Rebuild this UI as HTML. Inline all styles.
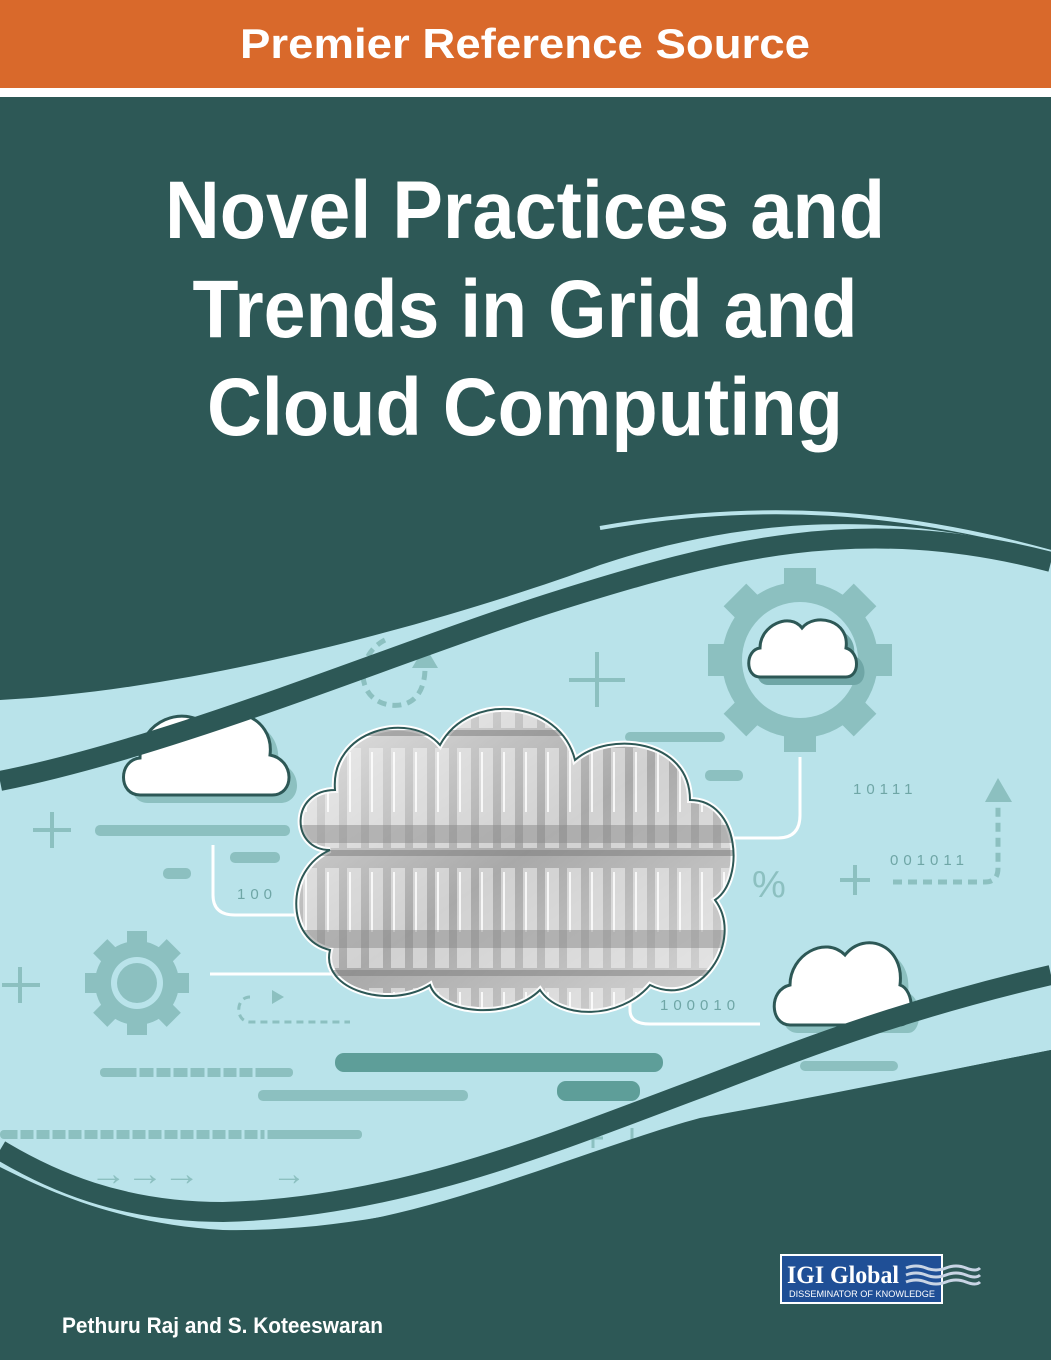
<!DOCTYPE html>
<html><head><meta charset="utf-8"><style>
html,body{margin:0;padding:0;background:#2d5856;}
svg{display:block}
</style></head><body>
<svg width="1051" height="1360" viewBox="0 0 1051 1360" xmlns="http://www.w3.org/2000/svg" font-family="Liberation Sans, sans-serif">
<defs>
<linearGradient id="cg" x1="0" y1="0" x2="1" y2="1">
<stop offset="0" stop-color="#e6e6e6"/><stop offset="0.5" stop-color="#a9a9a9"/><stop offset="1" stop-color="#d9d9d9"/>
</linearGradient>
<pattern id="rack" width="22" height="120" patternUnits="userSpaceOnUse" x="300" y="740">
<rect x="3" y="8" width="14" height="100" fill="#f2f2f2" opacity="0.55"/>
<rect x="5" y="12" width="2" height="60" fill="#ffffff" opacity="0.8"/>
<rect x="0" y="110" width="22" height="6" fill="#7a7a7a" opacity="0.5"/>
</pattern>
<clipPath id="bigc"><path d="M330,850 C290,850 290,790 335,790 C330,730 410,710 440,745 C470,690 560,700 575,760 C610,730 690,740 690,800 C740,800 745,880 715,900 C745,940 700,1010 650,985 C620,1020 560,1020 540,990 C510,1020 440,1015 430,985 C390,1010 320,990 330,950 C285,940 285,870 330,850 Z"/></clipPath>
</defs>
<rect width="1051" height="1360" fill="#2d5856"/>
<rect width="1051" height="88" fill="#d9692b"/>
<rect y="88" width="1051" height="9" fill="#ffffff"/>
<text x="525" y="58" text-anchor="middle" font-size="42" font-weight="bold" fill="#fff" textLength="570" lengthAdjust="spacingAndGlyphs">Premier Reference Source</text>
<g fill="#fff" font-size="82" font-weight="bold" text-anchor="middle">
<text x="525" y="238" textLength="720" lengthAdjust="spacingAndGlyphs">Novel Practices and</text>
<text x="525" y="337" textLength="665" lengthAdjust="spacingAndGlyphs">Trends in Grid and</text>
<text x="525" y="435" textLength="636" lengthAdjust="spacingAndGlyphs">Cloud Computing</text>
</g>
<!-- light area -->
<path d="M0,700 C200,690 450,620 600,565 C750,515 900,510 1051,555 L1051,1050 C900,1080 750,1110 600,1160 C450,1210 330,1232 223,1230 C120,1224 50,1192 0,1167 Z" fill="#b9e3ea"/>
<path d="M600,528 C760,500 900,510 1051,552" fill="none" stroke="#b9e3ea" stroke-width="4"/>
<!-- decorative bars -->
<g fill="#8cc0c0">
<rect x="95" y="825" width="195" height="11" rx="5"/>
<rect x="625" y="732" width="100" height="10" rx="5"/>
<rect x="705" y="770" width="38" height="11" rx="5"/>
<rect x="230" y="852" width="50" height="11" rx="5"/>
<rect x="163" y="868" width="28" height="11" rx="5"/>
<rect x="258" y="1090" width="210" height="11" rx="5"/>
<rect x="800" y="1061" width="98" height="10" rx="5"/>
</g>
<g fill="#5e9e99">
<rect x="335" y="1053" width="328" height="19" rx="9"/>
<rect x="557" y="1081" width="83" height="20" rx="9"/>
</g>
<g fill="#8cc0c0">
<rect x="100" y="1068" width="193" height="9" rx="4"/>
<rect x="0" y="1130" width="362" height="9" rx="4"/>
</g>
<g stroke="#b9e3ea" stroke-width="3"><path d="M138,1066 v13 M155,1066 v13 M172,1066 v13 M189,1066 v13 M206,1066 v13 M222,1066 v13 M238,1066 v13 M254,1066 v13"/>
<path d="M19,1128 v13 M35,1128 v13 M51,1128 v13 M67,1128 v13 M83,1128 v13 M99,1128 v13 M115,1128 v13 M131,1128 v13 M147,1128 v13 M163,1128 v13 M179,1128 v13 M195,1128 v13 M211,1128 v13 M227,1128 v13 M243,1128 v13 M259,1128 v13 M266,1128 v13"/></g>
<!-- white connector lines -->
<g fill="none" stroke="#fff" stroke-width="3">
<path d="M213,845 V895 Q213,915 235,915 H300"/>
<path d="M800,757 V815 Q800,838 778,838 H700"/>
<path d="M210,974 H360"/>
<path d="M630,985 V1010 Q630,1024 650,1024 H760"/>
</g>
<!-- plus signs -->
<g stroke="#8cc0c0" stroke-width="4">
<path d="M597,652 v55 M569,680 h56"/>
<path d="M52,812 v36 M33,830 h38"/>
<path d="M20,967 v36 M2,985 h38"/>
<path d="M855,865 v30 M840,880 h30"/>
</g>
<!-- dashed arrows -->
<g fill="none" stroke="#8cc0c0" stroke-width="5" stroke-dasharray="9,6">
<path d="M385,640 C355,655 355,700 390,705 C415,708 425,690 425,668"/>
<path d="M893,882 H985 Q998,882 998,868 V805"/>
</g>
<polygon points="412,668 438,668 425,646" fill="#8cc0c0"/>
<polygon points="985,802 1012,802 998,778" fill="#8cc0c0"/>
<path d="M250,997 C235,997 235,1022 250,1022 H350" fill="none" stroke="#8cc0c0" stroke-width="3" stroke-dasharray="7,5"/>
<polygon points="272,990 284,997 272,1004" fill="#8cc0c0"/>
<!-- binary text -->
<g fill="#6fa6a6" font-size="15" letter-spacing="5">
<text x="853" y="794">10111</text>
<text x="890" y="865">001011</text>
<text x="237" y="899">100</text>
<text x="660" y="1010">100010</text>
</g>
<text x="752" y="897" fill="#8cc0c0" font-size="38">%</text>
<!-- top-right gear -->
<g transform="translate(800,660)" fill="#8cc0c0">
<circle r="78"/>
<g><rect x="-16" y="-92" width="32" height="24"/><rect x="-16" y="68" width="32" height="24"/><rect x="-92" y="-16" width="24" height="32"/><rect x="68" y="-16" width="24" height="32"/>
<rect x="-16" y="-92" width="32" height="24" transform="rotate(45)"/><rect x="-16" y="-92" width="32" height="24" transform="rotate(135)"/><rect x="-16" y="-92" width="32" height="24" transform="rotate(225)"/><rect x="-16" y="-92" width="32" height="24" transform="rotate(315)"/></g>
<circle r="58" fill="#b9e3ea"/>
</g>
<!-- bottom-left gear -->
<g transform="translate(137,983)" fill="#8cc0c0">
<circle r="42"/>
<rect x="-10" y="-52" width="20" height="16"/><rect x="-10" y="36" width="20" height="16"/><rect x="-52" y="-10" width="16" height="20"/><rect x="36" y="-10" width="16" height="20"/>
<rect x="-10" y="-52" width="20" height="16" transform="rotate(45)"/><rect x="-10" y="-52" width="20" height="16" transform="rotate(135)"/><rect x="-10" y="-52" width="20" height="16" transform="rotate(225)"/><rect x="-10" y="-52" width="20" height="16" transform="rotate(315)"/>
<circle r="26" fill="#b9e3ea"/><circle r="20" fill="#8cc0c0"/>
</g>
<!-- small clouds -->
<g>
<path transform="translate(8,8)" d="M140,795 C118,795 118,760 140,758 C140,720 185,705 205,725 C225,700 275,715 270,755 C295,760 295,795 272,795 Z" fill="#8cc0c0"/>
<path d="M140,795 C118,795 118,760 140,758 C140,720 185,705 205,725 C225,700 275,715 270,755 C295,760 295,795 272,795 Z" fill="#fff" stroke="#2d5856" stroke-width="3"/>
<path transform="translate(8,8)" d="M760,677 C745,677 745,650 760,648 C760,625 790,612 802,628 C815,612 850,620 846,648 C860,652 860,677 846,677 Z" fill="#6fa6a6"/>
<path d="M760,677 C745,677 745,650 760,648 C760,625 790,612 802,628 C815,612 850,620 846,648 C860,652 860,677 846,677 Z" fill="#fff" stroke="#2d5856" stroke-width="3"/>
<path transform="translate(8,8)" d="M790,1025 C770,1025 768,990 790,985 C790,955 825,935 845,955 C865,930 905,945 900,985 C915,990 915,1025 900,1025 Z" fill="#8cc0c0"/>
<path d="M790,1025 C770,1025 768,990 790,985 C790,955 825,935 845,955 C865,930 905,945 900,985 C915,990 915,1025 900,1025 Z" fill="#fff" stroke="#2d5856" stroke-width="3"/>
</g>
<!-- big cloud -->
<path d="M330,850 C290,850 290,790 335,790 C330,730 410,710 440,745 C470,690 560,700 575,760 C610,730 690,740 690,800 C740,800 745,880 715,900 C745,940 700,1010 650,985 C620,1020 560,1020 540,990 C510,1020 440,1015 430,985 C390,1010 320,990 330,950 C285,940 285,870 330,850 Z" fill="url(#cg)" stroke="#fff" stroke-width="6"/>
<g clip-path="url(#bigc)">
<rect x="280" y="700" width="480" height="330" fill="url(#rack)"/>
<rect x="280" y="825" width="480" height="18" fill="#8a8a8a" opacity="0.5"/>
<rect x="280" y="930" width="480" height="18" fill="#8a8a8a" opacity="0.5"/>
</g>
<path d="M330,850 C290,850 290,790 335,790 C330,730 410,710 440,745 C470,690 560,700 575,760 C610,730 690,740 690,800 C740,800 745,880 715,900 C745,940 700,1010 650,985 C620,1020 560,1020 540,990 C510,1020 440,1015 430,985 C390,1010 320,990 330,950 C285,940 285,870 330,850 Z" fill="none" stroke="#2d5856" stroke-width="2"/>
<!-- arrows -->
<g fill="#8cc0c0" font-size="34"><text x="90" y="1185" textLength="110" lengthAdjust="spacingAndGlyphs">→→→</text><text x="272" y="1185" textLength="34" lengthAdjust="spacingAndGlyphs">→</text></g>
<g stroke="#8cc0c0" stroke-width="3"><path d="M555,1132 v20 M593,1128 v20 M583,1138 h20 M632,1128 v15"/></g>
<!-- stripes -->
<path d="M0,781 C180,745 400,650 560,600 C720,550 860,512 1051,562" fill="none" stroke="#2d5856" stroke-width="20"/>
<path d="M1051,975 C900,1010 800,1050 700,1088 C560,1140 400,1208 223,1212 C120,1212 50,1180 0,1150" fill="none" stroke="#2d5856" stroke-width="20"/>
<path d="M1051,1050 C900,1080 800,1100 700,1118 C600,1145 450,1210 330,1226 L330,1360 L1051,1360 Z" fill="#2d5856"/>
<!-- author -->
<text x="62" y="1333" fill="#fff" font-size="22" font-weight="bold" textLength="321" lengthAdjust="spacingAndGlyphs">Pethuru Raj and S. Koteeswaran</text>
<!-- logo -->
<rect x="780" y="1254" width="163" height="50" fill="#fff"/>
<rect x="782" y="1256" width="159" height="46" fill="#1f4f96"/>
<text x="787" y="1283" fill="#fff" font-family="Liberation Serif, serif" font-weight="bold" font-size="25" textLength="112" lengthAdjust="spacingAndGlyphs">IGI Global</text>
<text x="789" y="1297" fill="#fff" font-size="9" textLength="146" lengthAdjust="spacingAndGlyphs">DISSEMINATOR OF KNOWLEDGE</text>
<g fill="none" stroke="#c8d4e4" stroke-width="3">
<path d="M906,1268 q10,-4 20,0 t20,0 t20,0 t14,0"/>
<path d="M906,1275 q10,-4 20,0 t20,0 t20,0 t14,0"/>
<path d="M906,1282 q10,-4 20,0 t20,0 t20,0 t14,0"/>
</g>
</svg>
</body></html>
